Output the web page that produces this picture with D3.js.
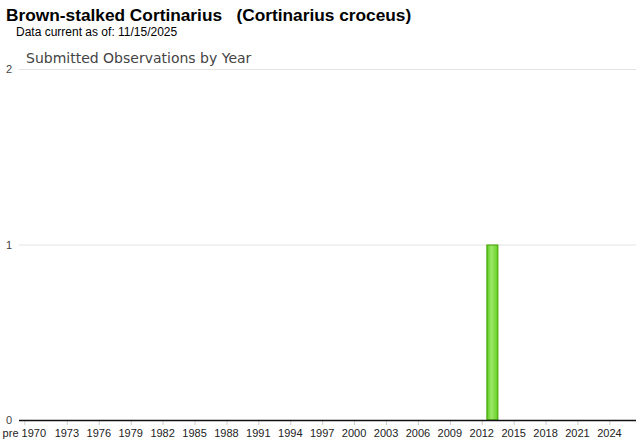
<!DOCTYPE html>
<html lang="en">
<head>
<meta charset="UTF-8">
<title>Submitted Observations by Year</title>
<style>
  body { margin: 0; background: #fff; }
  svg { display: block; font-family: "Liberation Sans", Arial, sans-serif; }
</style>
</head>
<body>
<svg id="chart" width="640" height="442"></svg>
<script src="https://cdn.jsdelivr.net/npm/d3@7"></script>
<script>
// data
var firstYear = 1970, lastYear = 2026;
var years = ["pre 1970"].concat(d3.range(firstYear, lastYear + 1).map(String));
var counts = years.map(function (y) { return y === "2013" ? 1 : 0; });
var yTicks = [0, 1, 2];
var shownLabels = ["pre 1970"].concat(d3.range(1973, 2025, 3).map(String));

var svg = d3.select("#chart"),
  plotLeft = 19, plotRight = 636, plotTop = 69, plotBottom = 420;

var x = d3.scaleBand().domain(years).range([plotLeft, plotRight]).padding(0);
var y = d3.scaleLinear().domain([0, 2]).range([plotBottom, plotTop]);

svg.append("text").attr("x", 6).attr("y", 21)
  .attr("font-size", 17.3).attr("font-weight", "bold").attr("fill", "#000")
  .attr("xml:space", "preserve")
  .text("Brown-stalked Cortinarius   (Cortinarius croceus)");
svg.append("text").attr("x", 16).attr("y", 36)
  .attr("font-size", 12).attr("fill", "#000")
  .text("Data current as of: 11/15/2025");
svg.append("text").attr("x", 26).attr("y", 63)
  .attr("font-family", "'DejaVu Sans', sans-serif")
  .attr("font-size", 14).attr("fill", "#444")
  .text("Submitted Observations by Year");

// gridlines
svg.append("g").selectAll("line").data(yTicks.filter(function (d) { return d > 0; }))
  .enter().append("line")
  .attr("x1", plotLeft).attr("x2", plotRight)
  .attr("y1", function (d) { return y(d) + 0.5; }).attr("y2", function (d) { return y(d) + 0.5; })
  .attr("stroke", "#e3e3e3");

svg.append("g").selectAll("text").data(yTicks).enter().append("text")
  .attr("x", 12).attr("y", function (d) { return y(d) + 4; })
  .attr("text-anchor", "end").attr("font-size", 11).attr("fill", "#444")
  .text(function (d) { return d; });

// tick marks and x labels
var xl = svg.append("g").selectAll("g").data(shownLabels).enter().append("g")
  .attr("transform", function (d) { return "translate(" + (x(d) + x.bandwidth() / 2) + ",0)"; });
xl.append("line").attr("y1", plotBottom + 1).attr("y2", plotBottom + 5)
  .attr("x1", 0.5).attr("x2", 0.5).attr("stroke", "#ccc");
xl.append("text").attr("y", plotBottom + 17).attr("text-anchor", "middle")
  .attr("font-size", 11).attr("fill", "#222")
  .text(function (d) { return d; });

// bars
var grad = svg.append("defs").append("linearGradient").attr("id", "g1")
  .attr("x1", "0%").attr("x2", "100%").attr("y1", "0%").attr("y2", "0%");
grad.append("stop").attr("offset", "0%").attr("stop-color", "#5cc81a");
grad.append("stop").attr("offset", "40%").attr("stop-color", "#9be86a");
grad.append("stop").attr("offset", "100%").attr("stop-color", "#66d020");

svg.append("g").selectAll("rect").data(years.filter(function (d, i) { return counts[i] > 0; }))
  .enter().append("rect")
  .attr("x", function (d) { return x(d) + x.bandwidth() / 2 - 5.5; })
  .attr("width", 11)
  .attr("y", function (d) { return y(counts[years.indexOf(d)]) + 0.5; })
  .attr("height", function (d) { return plotBottom - y(counts[years.indexOf(d)]) - 0.5; })
  .attr("fill", "url(#g1)").attr("stroke", "#3fa000").attr("stroke-width", 1);

// baseline
svg.append("line").attr("x1", plotLeft).attr("x2", plotRight)
  .attr("y1", plotBottom + 0.5).attr("y2", plotBottom + 0.5).attr("stroke", "#111").attr("stroke-width", 1.3);
</script>
</body>
</html>
